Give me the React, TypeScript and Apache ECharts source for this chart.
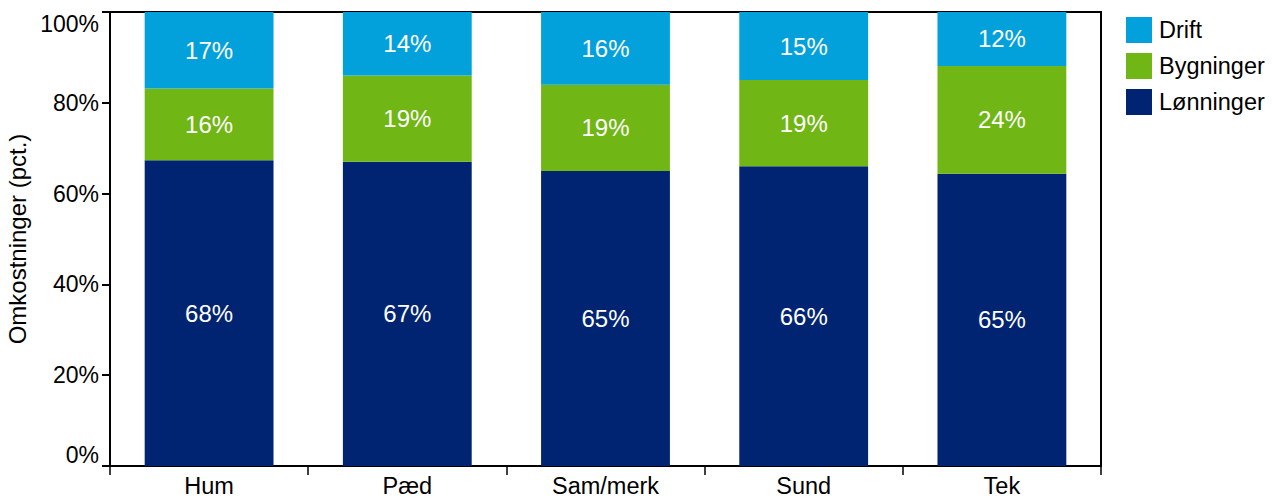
import React, { useEffect, useRef } from "react";
import * as echarts from "echarts";

const categories = ["Hum", "Pæd", "Sam/merk", "Sund", "Tek"];
const lonninger = [68, 67, 65, 66, 65];
const bygninger = [16, 19, 19, 19, 24];
const drift = [17, 14, 16, 15, 12];
const yTicks = ["0%", "20%", "40%", "60%", "80%", "100%"];

const FONT = "'Liberation Sans', Arial, sans-serif";

export default function App() {
  const ref = useRef<HTMLDivElement>(null);
  useEffect(() => {
    if (!ref.current) return;
    const chart = echarts.init(ref.current, null, { renderer: "svg" });
    const totals = categories.map((_, i) => lonninger[i] + bygninger[i] + drift[i]);
    const norm = (arr: number[]) =>
      arr.map((v, i) => ({ value: (v / totals[i]) * 100, raw: v }));
    const mk = (name: string, arr: number[], color: string) => ({
      name,
      type: "bar",
      stack: "total",
      barWidth: "65%",
      data: norm(arr),
      itemStyle: { color },
      label: {
        show: true,
        position: "inside",
        color: "#ffffff",
        fontSize: 24,
        fontFamily: FONT,
        formatter: (p: any) => `${p.data.raw}%`,
      },
    });
    chart.setOption({
      animation: false,
      textStyle: { fontFamily: FONT },
      grid: {
        left: 110,
        right: 171,
        top: 12,
        bottom: 32,
        outerBoundsMode: "none",
        containLabel: false,
        show: true,
        borderColor: "#000",
        borderWidth: 2,
        backgroundColor: "transparent",
      },
      legend: {
        orient: "vertical",
        left: 1126,
        top: 17,
        padding: 0,
        itemWidth: 26,
        itemHeight: 26,
        itemGap: 10,
        icon: "rect",
        data: ["Drift", "Bygninger", "Lønninger"],
        textStyle: { fontSize: 23.5, color: "#000", fontFamily: FONT, padding: [0, 0, 0, 2] },
      },
      xAxis: {
        type: "category",
        data: categories,
        axisLine: { lineStyle: { color: "#000", width: 2 } },
        axisTick: { show: true, length: 9, lineStyle: { color: "#000", width: 1.5 } },
        axisLabel: { color: "#000", fontSize: 23.5, margin: 8, fontFamily: FONT },
      },
      yAxis: {
        type: "value",
        min: 0,
        max: 100,
        interval: 20,
        name: "Omkostninger (pct.)",
        nameLocation: "middle",
        nameGap: 73,
        nameTextStyle: { color: "#000", fontSize: 24, fontFamily: FONT },
        splitLine: { show: false },
        axisLine: { show: true, lineStyle: { color: "#000", width: 2 } },
        axisTick: { show: true, length: 8, lineStyle: { color: "#000", width: 2 } },
        axisLabel: {
          color: "#000",
          fontSize: 23,
          margin: 11,
          fontFamily: FONT,
          verticalAlignMinLabel: "bottom",
          verticalAlignMaxLabel: "top",
          formatter: (v: number) => yTicks[Math.round(v / 20)],
        },
      },
      series: [
        mk("Lønninger", lonninger, "#002471"),
        mk("Bygninger", bygninger, "#70B614"),
        mk("Drift", drift, "#03A1DC"),
      ],
    });
    return () => chart.dispose();
  }, []);
  return (
    <div
      ref={ref}
      style={{ position: "absolute", left: 0, top: 0, width: 1272, height: 498 }}
    />
  );
}
